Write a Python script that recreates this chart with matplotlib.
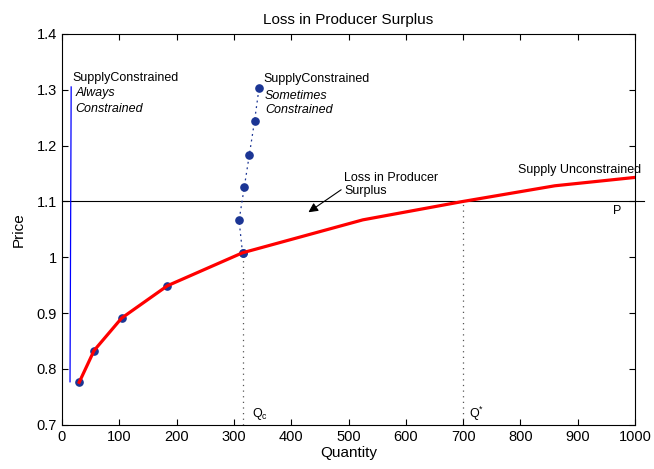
import numpy as np
import matplotlib
matplotlib.use("Agg")
import matplotlib.pyplot as plt

plt.rcParams['font.family'] = ['Liberation Sans', 'DejaVu Sans']
plt.rcParams['mathtext.fontset'] = 'custom'
plt.rcParams['mathtext.rm'] = 'Liberation Sans'
plt.rcParams['mathtext.it'] = 'Liberation Sans:italic'

# supply curve when unconstrained (red)
q_free = [30, 56, 104, 184, 315, 525, 700, 860, 1000]
p_free = [0.776, 0.833, 0.891, 0.949, 1.008, 1.067, 1.100, 1.128, 1.143]

# dots on the lower part of the curve
q_dots = [30, 56, 104, 184, 315]
p_dots = [0.776, 0.833, 0.891, 0.949, 1.008]

# sometimes constrained supply (blue dots)
q_some = [315, 309, 318, 327, 336, 344]
p_some = [1.008, 1.066, 1.125, 1.184, 1.244, 1.304]

# always constrained supply (thin blue line)
q_always = [14, 16]
p_always = [0.777, 1.305]

price_p = 1.1
q_c = 315
q_star = 700

xticks = [0, 100, 200, 300, 400, 500, 600, 700, 800, 900, 1000]
yticks = [0.7, 0.8, 0.9, 1.0, 1.1, 1.2, 1.3, 1.4]
ytick_labels = ['0.7', '0.8', '0.9', '1', '1.1', '1.2', '1.3', '1.4']

navy = '#1b3594'

fig = plt.figure(figsize=(6.54, 4.69), dpi=100)
ax = fig.add_axes([0.0948, 0.0943, 0.8762, 0.8334])

ax.plot([0, 1015], [price_p, price_p], color='black', lw=0.8, clip_on=False, zorder=2)
ax.plot([q_c, q_c], [0.7, p_dots[-1]], color='#555555', lw=0.9, dashes=(1, 3.5), zorder=1)
ax.plot([q_star, q_star], [0.7, price_p], color='#555555', lw=0.9, dashes=(1, 3.5), zorder=1)

ax.plot(q_always, p_always, color='#0000ff', lw=0.9, zorder=2)
ax.plot(q_some, p_some, color=navy, lw=0.9, dashes=(1.5, 3), zorder=2)
ax.plot(q_some, p_some, 'o', color=navy, ms=5.2, zorder=3)
ax.plot(q_dots, p_dots, 'o', color=navy, ms=5.2, zorder=3)
ax.plot(q_free, p_free, color='#ff0000', lw=2.3, zorder=4)

fs = 9
ax.text(19, 1.321, 'SupplyConstrained', fontsize=fs, va='center')
ax.text(24, 1.294, 'Always', fontsize=fs, style='italic', va='center')
ax.text(24, 1.266, 'Constrained', fontsize=fs, style='italic', va='center')

ax.text(351, 1.319, 'SupplyConstrained', fontsize=fs, va='center')
ax.text(354, 1.289, 'Sometimes', fontsize=fs, style='italic', va='center')
ax.text(354, 1.264, 'Constrained', fontsize=fs, style='italic', va='center')

ax.text(796, 1.156, 'Supply Unconstrained', fontsize=fs, va='center')
ax.text(961, 1.082, 'P', fontsize=fs, va='center')
ax.text(331, 0.719, r'Q$_{\mathrm{c}}$', fontsize=fs, va='center')
ax.text(711, 0.720, r'Q$^{*}$', fontsize=fs, va='center')

ax.annotate('Loss in Producer\nSurplus', xy=(430, 1.0806), xytext=(492, 1.131),
            fontsize=fs, va='center', ha='left', linespacing=1.1,
            arrowprops=dict(arrowstyle='-|>', color='black', lw=0.8,
                            shrinkA=0, shrinkB=0, mutation_scale=14,
                            relpos=(0, 0.35)))

ax.set_xlim(0, 1000)
ax.set_ylim(0.7, 1.4)
ax.set_xticks(xticks)
ax.set_yticks(yticks)
ax.set_yticklabels(ytick_labels)
ax.tick_params(direction='in', top=True, right=True, length=4, labelsize=10.5, width=0.8)
for s in ax.spines.values():
    s.set_linewidth(0.8)

ax.set_xlabel('Quantity', fontsize=11, labelpad=2)
ax.set_ylabel('Price', fontsize=11, labelpad=8)
ax.set_title('Loss in Producer Surplus', fontsize=11, pad=7)

fig.savefig('out.png', dpi=100)
